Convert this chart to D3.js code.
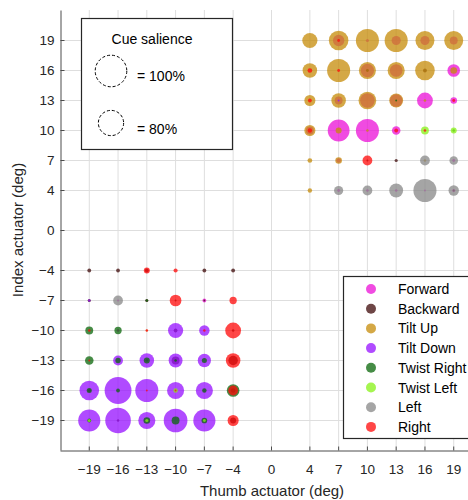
<!DOCTYPE html>
<html>
<head>
<meta charset="utf-8">
<script src="https://cdn.jsdelivr.net/npm/d3@7"></script>
<style>
  html, body { margin: 0; padding: 0; background: #fff; }
  svg { display: block; font-family: "Liberation Sans", Arial, Helvetica, sans-serif; }
</style>
</head>
<body>
<svg id="chart" width="468" height="500"></svg>
<script>
// Response categories and their marker colours
const categories = ["Forward", "Backward", "Tilt Up", "Tilt Down", "Twist Right", "Twist Left", "Left", "Right"];
const categoryColors = ["#eb0fd7", "#3e0808", "#c68b08", "#960fff", "#086608", "#87f216", "#878787", "#ff0808"];

// Tick values on both actuator axes (deg)
const xTicks = [-19, -16, -13, -10, -7, -4, 0, 4, 7, 10, 13, 16, 19];
const yTicks = [-19, -16, -13, -10, -7, -4, 0, 4, 7, 10, 13, 16, 19];

// Salience key values (%)
const salienceKey = [100, 80];

// Per-category responses: [thumb deg, index deg, percent]
const forward = [
  [7, 19, 36], [10, 19, 10], [13, 19, 29], [16, 19, 29], [19, 19, 25],
  [10, 16, 42], [13, 16, 40], [19, 16, 40],
  [7, 13, 25], [10, 13, 46], [13, 13, 40], [16, 13, 50], [19, 13, 21],
  [4, 10, 25], [7, 10, 69], [10, 10, 73], [13, 10, 27],
  [7, 7, 15], [19, 7, 9],
  [7, 4, 9], [10, 4, 8], [13, 4, 8], [16, 4, 6], [19, 4, 10],
  [-16, -7, 6], [-7, -7, 12], [-16, -10, 8], [-7, -16, 8]
];
const backward = [
  [10, 16, 9], [16, 16, 12], [13, 7, 10], [10, 7, 6], [19, 4, 6],
  [-19, -4, 12], [-16, -4, 12], [-13, -4, 12], [-7, -4, 12], [-4, -4, 12],
  [-19, -7, 10], [-13, -7, 10], [-10, -7, 6], [-7, -7, 6],
  [-10, -10, 12], [-4, -10, 8],
  [-13, -13, 8], [-10, -13, 25], [-4, -13, 30],
  [-19, -16, 10], [-4, -16, 15],
  [-16, -19, 8], [-4, -19, 19]
];
const tiltUp = [
  [4, 19, 48], [7, 19, 62], [10, 19, 73], [13, 19, 73], [16, 19, 60], [19, 19, 60],
  [4, 16, 46], [7, 16, 73], [10, 16, 54], [13, 16, 54], [16, 16, 62], [19, 16, 21],
  [4, 13, 35], [7, 13, 46], [10, 13, 56], [13, 13, 44], [16, 13, 8],
  [4, 10, 35], [7, 10, 19], [10, 10, 8],
  [4, 7, 15], [7, 7, 21], [16, 7, 8],
  [4, 4, 14],
  [-13, -10, 6]
];
const tiltDown = [
  [7, 13, 6],
  [-19, -7, 8],
  [-10, -10, 48], [-7, -10, 33],
  [-16, -13, 31], [-13, -13, 46], [-10, -13, 44], [-7, -13, 42],
  [-19, -16, 62], [-16, -16, 85], [-13, -16, 73], [-10, -16, 54], [-7, -16, 54],
  [-19, -19, 70], [-16, -19, 81], [-13, -19, 54], [-10, -19, 75], [-7, -19, 70]
];
const twistRight = [
  [13, 13, 6], [19, 10, 8],
  [-13, -7, 8],
  [-19, -10, 25], [-16, -10, 23],
  [-19, -13, 27], [-16, -13, 17], [-13, -13, 19], [-10, -13, 8], [-7, -13, 16],
  [-19, -16, 16], [-16, -16, 12], [-7, -16, 14], [-4, -16, 40],
  [-19, -19, 12], [-13, -19, 21], [-10, -19, 25], [-7, -19, 18]
];
const twistLeft = [
  [16, 10, 25], [19, 10, 19],
  [-10, -16, 14], [-19, -19, 10], [-13, -19, 10], [-7, -19, 9]
];
const left = [
  [16, 7, 31], [19, 7, 27],
  [7, 4, 29], [10, 4, 31], [13, 4, 44], [16, 4, 73], [19, 4, 33],
  [-16, -7, 31]
];
const right = [
  [7, 19, 9], [4, 16, 15], [7, 16, 9], [4, 13, 12], [19, 13, 9],
  [4, 10, 14], [13, 10, 12], [16, 10, 8], [10, 7, 31],
  [-13, -4, 19], [-10, -4, 13],
  [-10, -7, 37], [-4, -7, 23],
  [-19, -10, 8], [-13, -10, 8], [-7, -10, 8], [-4, -10, 50],
  [-19, -13, 6], [-4, -13, 46],
  [-13, -16, 6], [-10, -16, 6], [-4, -16, 31],
  [-4, -19, 35]
];
const seriesValues = [forward, backward, tiltUp, tiltDown, twistRight, twistLeft, left, right];

const svg = d3.select("#chart");
const plot = { left: 60, right: 482, top: 10, bottom: 450 };

const x = d3.scaleLinear().domain([-22, 22]).range([plot.left, plot.right]);
const y = d3.scaleLinear().domain([-22, 22]).range([plot.bottom, plot.top]);
const r = d3.scaleLinear().domain([0, 100]).range([0, 15.8]);
const color = d3.scaleOrdinal().domain(categories).range(categoryColors);
const markerOpacity = 0.75;
const textColor = "#262626";

// grid
const grid = svg.append("g").attr("stroke", "#dedede").attr("stroke-width", 1);
grid.selectAll(".gx").data(xTicks).join("line")
  .attr("x1", d => x(d) + 0.5).attr("x2", d => x(d) + 0.5)
  .attr("y1", plot.top).attr("y2", plot.bottom);
grid.selectAll(".gy").data(yTicks).join("line")
  .attr("y1", d => y(d) + 0.5).attr("y2", d => y(d) + 0.5)
  .attr("x1", plot.left).attr("x2", plot.right);

// bubbles, one layer per category in legend order
const marks = svg.append("g");
categories.forEach((cat, i) => {
  marks.append("g")
    .selectAll("circle")
    .data(seriesValues[i])
    .join("circle")
    .attr("cx", d => x(d[0]) + 0.5)
    .attr("cy", d => y(d[1]) + 0.5)
    .attr("r", d => r(d[2]))
    .attr("fill", color(cat))
    .attr("fill-opacity", markerOpacity);
});

// axes with inward ticks
const xAxis = svg.append("g")
  .attr("transform", `translate(0,${plot.bottom + 0.5})`)
  .call(d3.axisBottom(x).tickValues(xTicks).tickSizeInner(-4).tickSizeOuter(0).tickPadding(14));
const yAxis = svg.append("g")
  .attr("transform", `translate(${plot.left + 0.5},0)`)
  .call(d3.axisLeft(y).tickValues(yTicks).tickSizeInner(-4).tickSizeOuter(0).tickPadding(6));
[xAxis, yAxis].forEach(a => {
  a.select(".domain").attr("stroke", "#4d4d4d");
  a.selectAll(".tick line").attr("stroke", "#4d4d4d");
  a.selectAll(".tick text").attr("fill", textColor)
    .style("font-family", "'Liberation Sans', Arial, sans-serif").style("font-size", "13.5px");
});

svg.append("text")
  .attr("x", 272).attr("y", 496)
  .attr("text-anchor", "middle").attr("fill", textColor)
  .style("font-size", "15px")
  .text("Thumb actuator (deg)");
svg.append("text")
  .attr("transform", `translate(23,230) rotate(-90)`)
  .attr("text-anchor", "middle").attr("fill", textColor)
  .style("font-size", "15px")
  .text("Index actuator (deg)");

// salience key
const key = svg.append("g");
key.append("rect")
  .attr("x", 81.5).attr("y", 18.5).attr("width", 151).attr("height", 131)
  .attr("fill", "#fff").attr("stroke", "#262626").attr("stroke-width", 1.2);
key.append("text")
  .attr("x", 152).attr("y", 44)
  .attr("text-anchor", "middle").attr("fill", "#000")
  .style("font-size", "14px")
  .text("Cue salience");
const keyRows = key.selectAll(".krow").data(salienceKey).join("g")
  .attr("transform", (d, i) => `translate(0,${i === 0 ? 71 : 123})`);
keyRows.append("circle")
  .attr("cx", 111).attr("cy", 0)
  .attr("r", d => r(d))
  .attr("fill", "none").attr("stroke", "#000").attr("stroke-width", 1)
  .attr("stroke-dasharray", "3,2");
keyRows.append("text")
  .attr("x", 137).attr("y", d => d === 100 ? 10 : 11)
  .attr("fill", "#000").style("font-size", "14px")
  .text(d => `= ${d}%`);

// category legend
const legend = svg.append("g");
legend.append("rect")
  .attr("x", 343.5).attr("y", 276.5).attr("width", 130).attr("height", 162)
  .attr("fill", "#fff").attr("stroke", "#262626").attr("stroke-width", 1.2);
const items = legend.selectAll(".item").data(categories).join("g")
  .attr("transform", (d, i) => `translate(0,${289 + i * 19.7})`);
items.append("circle")
  .attr("cx", 371).attr("cy", 0).attr("r", 5)
  .attr("fill", d => color(d)).attr("fill-opacity", markerOpacity);
items.append("text")
  .attr("x", 398).attr("y", 5)
  .attr("fill", "#000").style("font-size", "14px")
  .text(d => d);
</script>
</body>
</html>
